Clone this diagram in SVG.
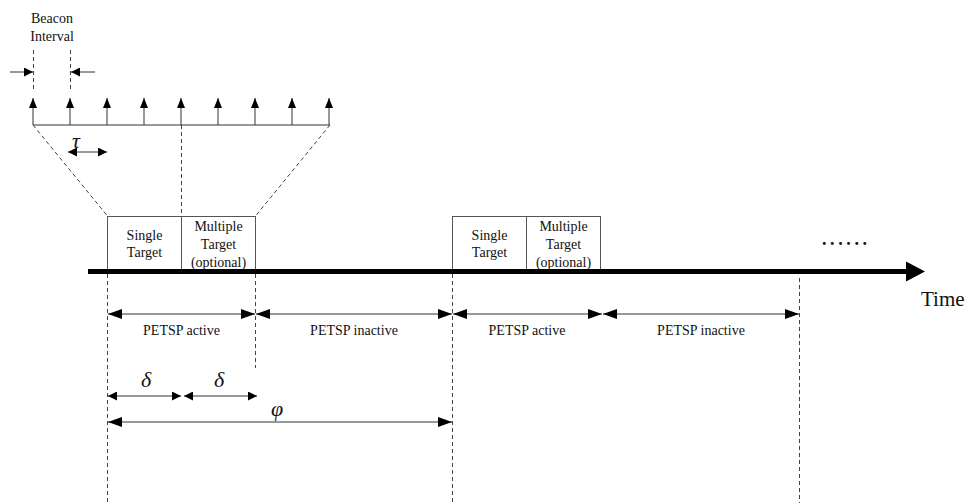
<svg xmlns="http://www.w3.org/2000/svg" width="966" height="503" viewBox="0 0 966 503">
<style>
text{font-family:"Liberation Serif","Times New Roman",serif;fill:#111;}
.t14{font-size:14px;}
.sym{font-size:22px;font-style:italic;}
.ln{stroke:#333;stroke-width:1;fill:none;}
.dash{stroke:#444;stroke-width:1;stroke-dasharray:4,3;fill:none;}
.box{fill:#fff;stroke:#555;stroke-width:1;}
</style>
<defs>
<marker id="ah" viewBox="0 0 14 10" refX="14" refY="5" markerWidth="14" markerHeight="10" markerUnits="userSpaceOnUse" orient="auto-start-reverse"><path d="M0,0 L14,5 L0,10 z" fill="#000"/></marker>
<marker id="as" viewBox="0 0 9 9" refX="9" refY="4.5" markerWidth="9" markerHeight="9" markerUnits="userSpaceOnUse" orient="auto-start-reverse"><path d="M0,0 L9,4.5 L0,9 z" fill="#000"/></marker>
<marker id="up" viewBox="0 0 8 10" refX="4" refY="0" markerWidth="8" markerHeight="10" markerUnits="userSpaceOnUse" orient="0"><path d="M4,0 L8,10 L0,10 z" fill="#000"/></marker>
</defs>
<rect width="966" height="503" fill="#fff"/>

<g id="beacon-label">
<text class="t14" x="52" y="23" text-anchor="middle">Beacon</text>
<text class="t14" x="52" y="41" text-anchor="middle">Interval</text>
</g>

<g id="beacons">
<line class="ln" x1="33" y1="125" x2="330" y2="125"/>
<line class="ln" x1="33" y1="125" x2="33" y2="98" marker-end="url(#up)"/>
<line class="ln" x1="70" y1="125" x2="70" y2="98" marker-end="url(#up)"/>
<line class="ln" x1="107" y1="125" x2="107" y2="98" marker-end="url(#up)"/>
<line class="ln" x1="144" y1="125" x2="144" y2="98" marker-end="url(#up)"/>
<line class="ln" x1="181" y1="125" x2="181" y2="98" marker-end="url(#up)"/>
<line class="ln" x1="218" y1="125" x2="218" y2="98" marker-end="url(#up)"/>
<line class="ln" x1="255" y1="125" x2="255" y2="98" marker-end="url(#up)"/>
<line class="ln" x1="292" y1="125" x2="292" y2="98" marker-end="url(#up)"/>
<line class="ln" x1="329" y1="125" x2="329" y2="98" marker-end="url(#up)"/>
</g>

<g id="box-single-1"><rect class="box" x="107.5" y="216.5" width="74" height="53"/>
<text class="t14" x="144.5" y="240" text-anchor="middle">Single</text>
<text class="t14" x="144.5" y="257" text-anchor="middle">Target</text></g>
<g id="box-multi-1"><rect class="box" x="181.5" y="216.5" width="74" height="53"/>
<text class="t14" x="218.5" y="231" text-anchor="middle">Multiple</text>
<text class="t14" x="218.5" y="249" text-anchor="middle">Target</text>
<text class="t14" x="218.5" y="267" text-anchor="middle">(optional)</text></g>
<g id="box-single-2"><rect class="box" x="452.5" y="216.5" width="74" height="53"/>
<text class="t14" x="489.5" y="240" text-anchor="middle">Single</text>
<text class="t14" x="489.5" y="257" text-anchor="middle">Target</text></g>
<g id="box-multi-2"><rect class="box" x="526.5" y="216.5" width="74" height="53"/>
<text class="t14" x="563.5" y="231" text-anchor="middle">Multiple</text>
<text class="t14" x="563.5" y="249" text-anchor="middle">Target</text>
<text class="t14" x="563.5" y="267" text-anchor="middle">(optional)</text></g>

<g id="time-axis">
<line x1="88" y1="271.5" x2="908" y2="271.5" stroke="#000" stroke-width="5"/>
<polygon points="906,261.5 925,271.5 906,281.5" fill="#000"/>
<text x="921" y="306" style="font-size:21px">Time</text>
<text x="822" y="245" style="font-size:18px;font-weight:bold;letter-spacing:3.6px">......</text>
</g>

<g id="connectors">
<line class="dash" x1="33.5" y1="50" x2="33.5" y2="92"/>
<line class="dash" x1="70.5" y1="50" x2="70.5" y2="92"/>
<line class="ln" x1="10" y1="72" x2="33" y2="72" marker-end="url(#as)"/>
<line class="ln" x1="95" y1="72" x2="71" y2="72" marker-end="url(#as)"/>
<text class="sym" x="72" y="148">τ</text>
<line class="ln" x1="68" y1="152" x2="107" y2="152" marker-start="url(#as)" marker-end="url(#as)"/>
<line class="dash" x1="33" y1="125" x2="107.5" y2="216"/>
<line class="dash" x1="330" y1="125" x2="255.5" y2="216"/>
<line class="dash" x1="181.5" y1="125" x2="181.5" y2="216"/>
<line class="dash" x1="107.5" y1="274" x2="107.5" y2="503"/>
<line class="dash" x1="255.5" y1="274" x2="255.5" y2="368"/>
<line class="dash" x1="452.5" y1="274" x2="452.5" y2="503"/>
<line class="dash" x1="799.5" y1="278" x2="799.5" y2="503"/>
<line class="ln" x1="108" y1="314" x2="255" y2="314" marker-start="url(#ah)" marker-end="url(#ah)"/>
<line class="ln" x1="256" y1="314" x2="452" y2="314" marker-start="url(#ah)" marker-end="url(#ah)"/>
<line class="ln" x1="453" y1="314" x2="602" y2="314" marker-start="url(#ah)" marker-end="url(#ah)"/>
<line class="ln" x1="603" y1="314" x2="799" y2="314" marker-start="url(#ah)" marker-end="url(#ah)"/>
<text class="t14" x="181.5" y="335" text-anchor="middle">PETSP active</text>
<text class="t14" x="354" y="335" text-anchor="middle">PETSP inactive</text>
<text class="t14" x="527" y="335" text-anchor="middle">PETSP active</text>
<text class="t14" x="701" y="335" text-anchor="middle">PETSP inactive</text>
<line class="ln" x1="108" y1="396" x2="181" y2="396" marker-start="url(#as)" marker-end="url(#as)"/>
<line class="ln" x1="184" y1="396" x2="257" y2="396" marker-start="url(#as)" marker-end="url(#as)"/>
<text class="sym" x="146" y="387" text-anchor="middle">δ</text>
<text class="sym" x="219" y="387" text-anchor="middle">δ</text>
<line class="ln" x1="108" y1="422" x2="452" y2="422" marker-start="url(#ah)" marker-end="url(#ah)"/>
<text class="sym" x="277" y="416" text-anchor="middle">φ</text>
</g>
</svg>
